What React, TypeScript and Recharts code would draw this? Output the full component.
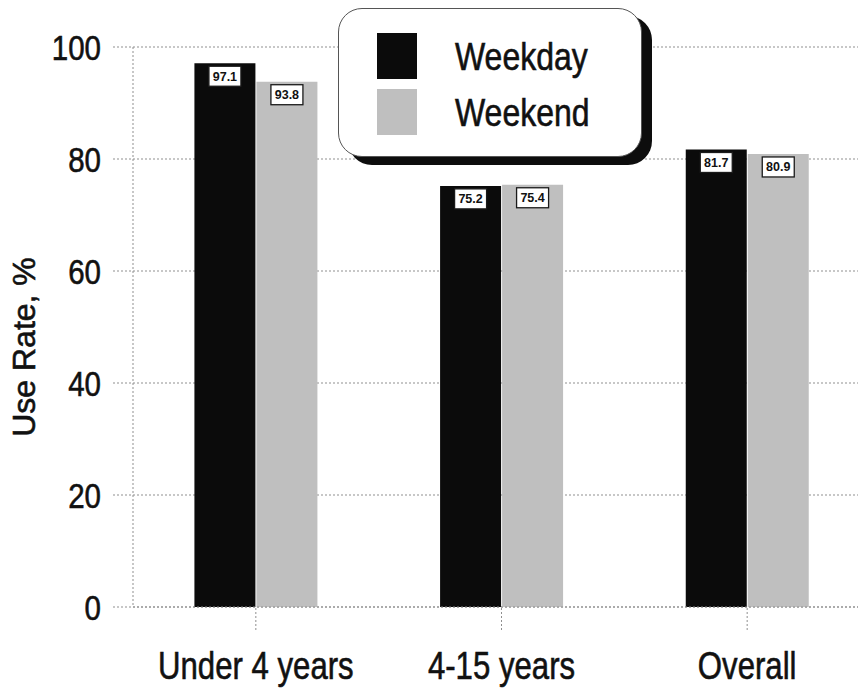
import { BarChart, Bar, XAxis, YAxis, CartesianGrid, Legend, LabelList, Label } from "recharts";

const AGE_GROUPS = ["Under 4 years", "4-15 years", "Overall"];
const WEEKDAY_RATE = [97.1, 75.2, 81.7];
const WEEKEND_RATE = [93.8, 75.4, 80.9];
const Y_TICKS = [0, 20, 40, 60, 80, 100];

const WEEKDAY_FILL = "#0b0b0b";
const WEEKEND_FILL = "#bfbfbf";
const GRID = "#8f8f8f";
const INK = "#111";
const SANS = "'Liberation Sans', Arial, sans-serif";
// no narrow face installed, so squeeze the regular one horizontally
const SQUEEZE = 0.82;

const data = AGE_GROUPS.map((group, i) => ({
  group,
  weekday: WEEKDAY_RATE[i],
  weekend: WEEKEND_RATE[i],
}));

function XTick(props: any) {
  const { x, y, payload } = props;
  return (
    <g transform={`translate(${x},${y})`}>
      <text
        transform={`scale(${SQUEEZE},1)`}
        dy="0.71em"
        textAnchor="middle"
        fontSize={38}
        fontFamily={SANS}
        fill={INK}
        stroke={INK}
        strokeWidth={0.6}
      >
        {payload.value}
      </text>
    </g>
  );
}

function YTick(props: any) {
  const { x, y, payload } = props;
  return (
    <g transform={`translate(${x},${y})`}>
      <text
        transform={`scale(${SQUEEZE},1)`}
        dy="0.36em"
        textAnchor="end"
        fontSize={36}
        fontFamily={SANS}
        fill={INK}
        stroke={INK}
        strokeWidth={0.6}
      >
        {payload.value}
      </text>
    </g>
  );
}

// small boxed value sitting just inside the top of each bar
function ValueTag(props: any) {
  const { x, y, width, value } = props;
  const w = 32;
  const h = 20;
  const cx = x + width / 2;
  return (
    <g>
      <rect x={cx - w / 2} y={y + 3} width={w} height={h} fill="#fff" stroke="#1a1a1a" strokeWidth={1.3} />
      <text
        x={cx}
        y={y + 3 + h / 2}
        dy="0.36em"
        textAnchor="middle"
        fontSize={12.5}
        fontWeight="bold"
        fontFamily={SANS}
        fill={INK}
      >
        {Number(value).toFixed(1)}
      </text>
    </g>
  );
}

function LegendBox(props: any) {
  const items = props.payload || [];
  return (
    <div
      style={{
        boxSizing: "border-box",
        width: 304,
        height: 149,
        background: "#fff",
        border: "1.5px solid #555",
        borderRadius: 24,
        boxShadow: "10px 8px 0 #0d0d0d",
        paddingTop: 24,
        paddingLeft: 38,
      }}
    >
      {items.map((item: any) => (
        <div key={item.value} style={{ display: "flex", alignItems: "center", height: 46, marginBottom: 10 }}>
          <div style={{ width: 40, height: 46, background: item.color }} />
          <span
            style={{
              display: "inline-block",
              marginLeft: 38,
              fontFamily: SANS,
              fontSize: 39,
              color: INK,
              lineHeight: 1,
              WebkitTextStroke: "0.6px #111",
              transform: `scaleX(${SQUEEZE})`,
              transformOrigin: "left center",
            }}
          >
            {item.value}
          </span>
        </div>
      ))}
    </div>
  );
}

function YTitle(props: any) {
  const vb = props.viewBox;
  const x = vb.x + 35;
  const y = vb.y + vb.height / 2 + 20;
  return (
    <text
      x={x}
      y={y}
      transform={`rotate(-90, ${x}, ${y})`}
      textAnchor="middle"
      fontSize={32}
      fontFamily={SANS}
      fill={INK}
      stroke={INK}
      strokeWidth={0.6}
    >
      Use Rate, %
    </text>
  );
}

export default function App() {
  return (
    <div style={{ position: "absolute", left: 0, top: 0, width: 858, height: 689, overflow: "hidden", background: "#fff" }}>
      <BarChart
        width={880}
        height={689}
        data={data}
        margin={{ top: 47, right: 10, left: 0, bottom: 0 }}
        barCategoryGap="25%"
        barGap={1}
      >
        <CartesianGrid vertical={false} stroke={GRID} strokeDasharray="2 2" />
        <XAxis
          dataKey="group"
          height={82}
          interval={0}
          tickSize={23}
          tickMargin={22}
          axisLine={{ stroke: GRID, strokeDasharray: "2 2" }}
          tickLine={{ stroke: GRID, strokeDasharray: "2 2" }}
          tick={XTick}
        />
        <YAxis
          width={133}
          domain={[0, 100]}
          ticks={Y_TICKS}
          interval={0}
          tickSize={20}
          tickMargin={12}
          axisLine={{ stroke: GRID, strokeDasharray: "2 2" }}
          tickLine={{ stroke: GRID, strokeDasharray: "2 2" }}
          tick={YTick}
        >
          <Label content={YTitle} />
        </YAxis>
        <Legend
          layout="vertical"
          align="center"
          verticalAlign="middle"
          content={LegendBox}
          wrapperStyle={{ top: 8, left: 338, width: 304, height: 149 }}
        />
        <Bar dataKey="weekday" name="Weekday" fill={WEEKDAY_FILL} isAnimationActive={false}>
          <LabelList dataKey="weekday" content={ValueTag} />
        </Bar>
        <Bar dataKey="weekend" name="Weekend" fill={WEEKEND_FILL} isAnimationActive={false}>
          <LabelList dataKey="weekend" content={ValueTag} />
        </Bar>
      </BarChart>
    </div>
  );
}
